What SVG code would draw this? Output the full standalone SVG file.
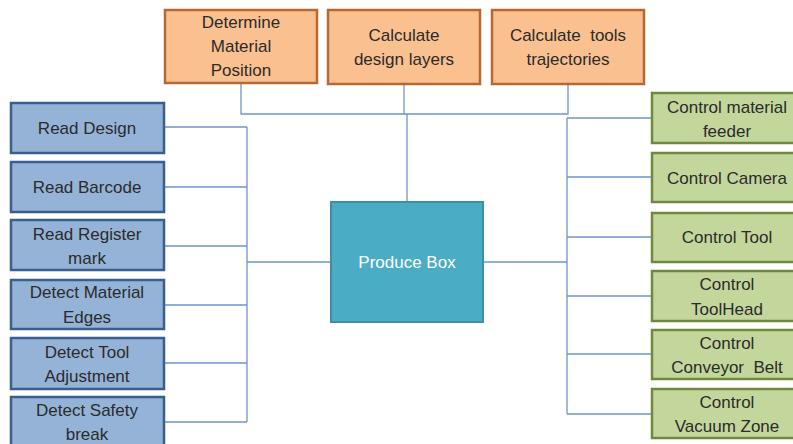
<svg xmlns="http://www.w3.org/2000/svg" width="793" height="444" viewBox="0 0 793 444">
  <style>
    text { font-family: "Liberation Sans", Arial, sans-serif; font-size: 17px; fill: #2b2b2b; text-anchor: middle; dominant-baseline: central; }
    .calc rect { fill: #FAC090; stroke: #B46A32; stroke-width: 2.5; }
    .input rect { fill: #95B3D7; stroke: #3A5F8E; stroke-width: 2.5; }
    .ctrl rect { fill: #C3D69B; stroke: #71893F; stroke-width: 2.5; }
    .hub rect { fill: #4BACC6; stroke: #3C8FA6; stroke-width: 2; }
    .hub text { fill: #ffffff; }
    #connectors path { fill: none; stroke: #6E95CB; stroke-width: 1.3; }
  </style>

  <g id="connectors">
    <!-- calculation steps feed the central task -->
    <path d="M241 83 V114 H568 V84 M404 84 V114 M407 114 V202"/>
    <!-- input steps -->
    <path d="M164 127 H247 M164 187 H247 M164 246 H247 M164 305 H247 M164 363 H247 M164 422 H247 M247 127 V422 M247 262 H331"/>
    <!-- control steps -->
    <path d="M483 262 H567 M567 118 V414 M567 118 H652 M567 177 H652 M567 237 H652 M567 296 H652 M567 354 H652 M567 414 H652"/>
  </g>

  <!-- calculation steps -->
  <g id="determine-position" class="calc">
    <rect x="165" y="10" width="152" height="73"/>
    <text x="241" y="22">Determine</text>
    <text x="241" y="46">Material</text>
    <text x="241" y="70">Position</text>
  </g>
  <g id="calc-layers" class="calc">
    <rect x="328" y="10" width="152" height="74"/>
    <text x="404" y="35">Calculate</text>
    <text x="404" y="59">design layers</text>
  </g>
  <g id="calc-trajectories" class="calc">
    <rect x="492" y="10" width="152" height="74"/>
    <text x="568" y="35" xml:space="preserve">Calculate  tools</text>
    <text x="568" y="59">trajectories</text>
  </g>

  <!-- central task -->
  <g id="produce-box" class="hub">
    <rect x="331" y="202" width="152" height="120"/>
    <text x="407" y="262">Produce Box</text>
  </g>

  <!-- input steps -->
  <g id="read-design" class="input">
    <rect x="11" y="103" width="153" height="50"/>
    <text x="87" y="128">Read Design</text>
  </g>
  <g id="read-barcode" class="input">
    <rect x="11" y="162" width="153" height="50"/>
    <text x="87" y="187">Read Barcode</text>
  </g>
  <g id="read-register" class="input">
    <rect x="11" y="220" width="153" height="50"/>
    <text x="87" y="234">Read Register</text>
    <text x="87" y="258">mark</text>
  </g>
  <g id="detect-edges" class="input">
    <rect x="11" y="280" width="153" height="49"/>
    <text x="87" y="292">Detect Material</text>
    <text x="87" y="317">Edges</text>
  </g>
  <g id="detect-adjustment" class="input">
    <rect x="11" y="338" width="153" height="51"/>
    <text x="87" y="352">Detect Tool</text>
    <text x="87" y="376">Adjustment</text>
  </g>
  <g id="detect-safety" class="input">
    <rect x="11" y="397" width="153" height="52"/>
    <text x="87" y="410">Detect Safety</text>
    <text x="87" y="434">break</text>
  </g>

  <!-- control steps -->
  <g id="ctrl-feeder" class="ctrl">
    <rect x="652" y="93" width="150" height="50"/>
    <text x="727" y="107">Control material</text>
    <text x="727" y="131">feeder</text>
  </g>
  <g id="ctrl-camera" class="ctrl">
    <rect x="652" y="153" width="150" height="49"/>
    <text x="727" y="178">Control Camera</text>
  </g>
  <g id="ctrl-tool" class="ctrl">
    <rect x="652" y="213" width="150" height="49"/>
    <text x="727" y="237">Control Tool</text>
  </g>
  <g id="ctrl-toolhead" class="ctrl">
    <rect x="652" y="271" width="150" height="50"/>
    <text x="727" y="284">Control</text>
    <text x="727" y="309">ToolHead</text>
  </g>
  <g id="ctrl-conveyor" class="ctrl">
    <rect x="652" y="330" width="150" height="49"/>
    <text x="727" y="343">Control</text>
    <text x="727" y="367" xml:space="preserve">Conveyor  Belt</text>
  </g>
  <g id="ctrl-vacuum" class="ctrl">
    <rect x="652" y="389" width="150" height="49"/>
    <text x="727" y="402">Control</text>
    <text x="727" y="426">Vacuum Zone</text>
  </g>
</svg>
